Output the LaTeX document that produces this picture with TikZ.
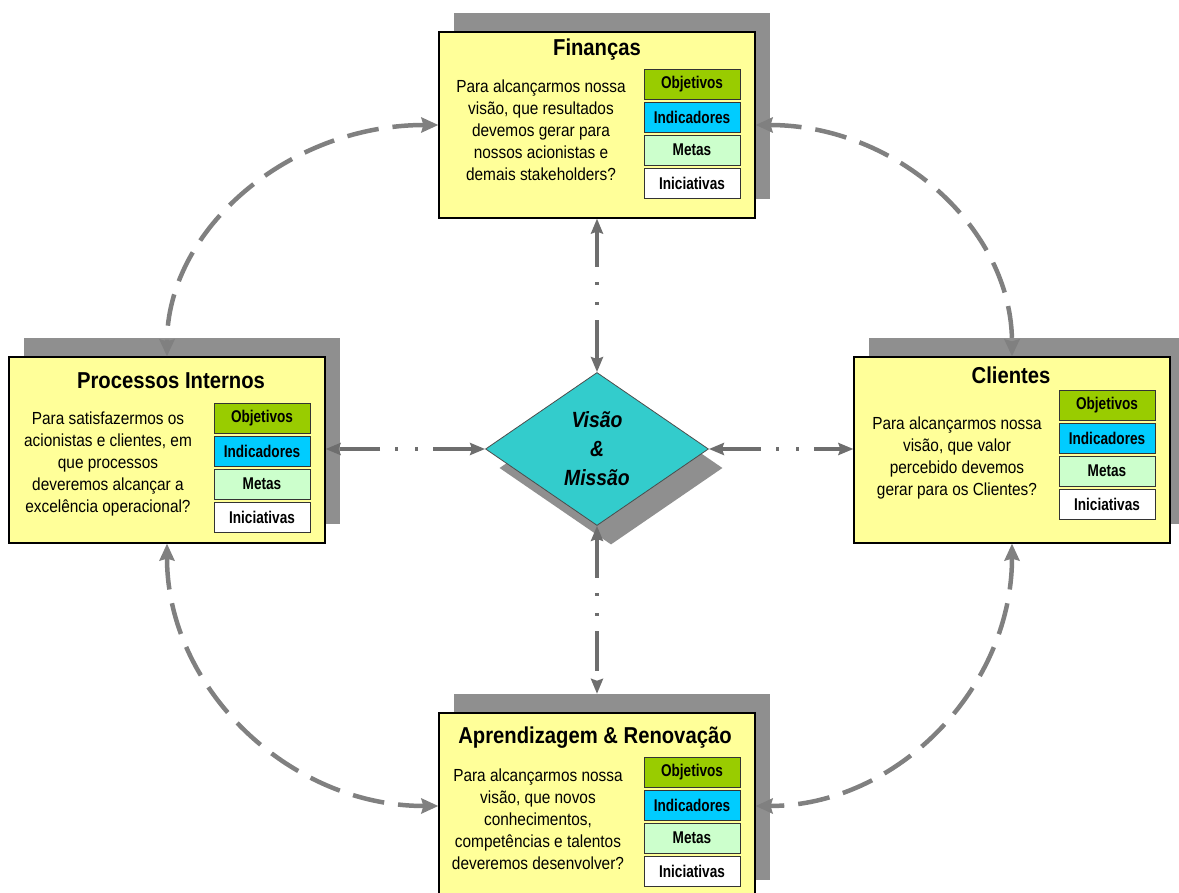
\documentclass[tikz,border=0pt]{standalone}
\usepackage{fontspec}
\setmainfont{Liberation Sans}[FakeStretch=0.88]
\newfontfamily\lblfont{Liberation Sans}[FakeStretch=0.8]
\usetikzlibrary{shapes.geometric,arrows.meta,calc}
\definecolor{boxyellow}{HTML}{FFFF99}
\definecolor{shadowgray}{HTML}{8F8F8F}
\definecolor{objgreen}{HTML}{99CC00}
\definecolor{indcyan}{HTML}{00CCFF}
\definecolor{metgreen}{HTML}{CCFFCC}
\definecolor{vmteal}{HTML}{33CCCC}
\definecolor{arrowgray}{HTML}{808080}
\definecolor{ddgray}{HTML}{6E6E6E}
\begin{document}
\begin{tikzpicture}[x=1pt,y=-1pt,
  panel/.style={draw=black,line width=1.2pt,fill=boxyellow,minimum width=316pt,minimum height=186pt,inner sep=0pt},
  shadowbox/.style={fill=shadowgray,minimum width=316pt,minimum height=186pt,inner sep=0pt},
  ptitle/.style={font=\fontsize{23}{26}\selectfont\bfseries,inner sep=0pt},
  ptext/.style={font=\fontsize{17.5}{22}\selectfont,align=center,inner sep=0pt},
  tag/.style={draw=black!80,line width=0.8pt,minimum width=96pt,minimum height=30pt,inner sep=0pt,font=\lblfont\fontsize{17}{19}\selectfont\bfseries},
  tobj/.style={tag,fill=objgreen},
  tind/.style={tag,fill=indcyan},
  tmet/.style={tag,fill=metgreen},
  tini/.style={tag,fill=white},
  vmshape/.style={diamond,minimum width=223pt,minimum height=153pt,inner sep=0pt},
  curvec/.style={draw=arrowgray,line width=4.5pt,dash pattern=on 32pt off 14pt,
    {Stealth[length=17pt,width=15pt,inset=2pt]}-{Stealth[length=17pt,width=15pt,inset=2pt]}},
  ddline/.style={draw=ddgray,line width=4pt,dash pattern=on 40pt off 15pt on 3pt off 17pt on 3pt off 15pt,
    {Stealth[length=15pt,width=12pt,inset=2pt]}-{Stealth[length=15pt,width=12pt,inset=2pt]}}
]
\useasboundingbox (0,0) rectangle (1179,893);
% shadows
\node[shadowbox] (finsh) at (612,106) {};
\node[shadowbox] (procsh) at (182,431) {};
\node[shadowbox] (clish) at (1027,431) {};
\node[shadowbox] (aprsh) at (612,787) {};
\node[vmshape,fill=shadowgray] (vmsh) at (611,468) {};
% panels
\node[panel] (fin) at (597,125) {};
\node[panel] (proc) at (167,450) {};
\node[panel] (cli) at (1012,450) {};
\node[panel] (apr) at (597,806) {};
% Finanças
\node[ptitle] (fint) at (597,50) {Finanças};
\node[ptext] (finx) at (541,130.5) {Para alcançarmos nossa\\visão, que resultados\\devemos gerar para\\nossos acionistas e\\demais stakeholders?};
\node[tobj] (fin1) at (692,84) {Objetivos};
\node[tind] (fin2) at (692,117) {Indicadores};
\node[tmet] (fin3) at (692,150) {Metas};
\node[tini] (fin4) at (692,183) {Iniciativas};
% Processos Internos
\node[ptitle] (proct) at (171,381) {Processos Internos};
\node[ptext] (procx) at (108,463.5) {Para satisfazermos os\\acionistas e clientes, em\\que processos\\deveremos alcançar a\\excelência operacional?};
\node[tobj] (proc1) at (262,418) {Objetivos};
\node[tind] (proc2) at (262,451) {Indicadores};
\node[tmet] (proc3) at (262,484) {Metas};
\node[tini] (proc4) at (262,517) {Iniciativas};
% Clientes
\node[ptitle] (clit) at (1011,375) {Clientes};
\node[ptext] (clix) at (957,458) {Para alcançarmos nossa\\visão, que valor\\percebido devemos\\gerar para os Clientes?};
\node[tobj] (cli1) at (1107,405) {Objetivos};
\node[tind] (cli2) at (1107,438) {Indicadores};
\node[tmet] (cli3) at (1107,471) {Metas};
\node[tini] (cli4) at (1107,504) {Iniciativas};
% Aprendizagem
\node[ptitle] (aprt) at (595,738) {Aprendizagem \& Renovação};
\node[ptext] (aprx) at (538,819) {Para alcançarmos nossa\\visão, que novos\\conhecimentos,\\competências e talentos\\deveremos desenvolver?};
\node[tobj] (apr1) at (692,772) {Objetivos};
\node[tind] (apr2) at (692,805) {Indicadores};
\node[tmet] (apr3) at (692,838) {Metas};
\node[tini] (apr4) at (692,871) {Iniciativas};
% diamond
\node[vmshape,draw=black!70,line width=0.8pt,fill=vmteal,align=center,font=\fontsize{22}{29}\selectfont\bfseries\itshape] (vm) at (597,449) {Visão\\\&\\Missão};
% curved connectors
\draw[curvec] (fin.west) .. controls (289,125) and (167,229) .. (proc.north);
\draw[curvec] (fin.east) .. controls (897,125) and (1012,229) .. (cli.north);
\draw[curvec] (cli.south) .. controls (1012,688) and (897,806) .. (apr.east);
\draw[curvec] (proc.south) .. controls (167,688) and (289,806) .. (apr.west);
% dash-dot connectors
\draw[ddline] (vm.north) -- (fin.south);
\draw[ddline] (vm.west) -- (proc.east |- vm.west);
\draw[ddline] (vm.east) -- (cli.west |- vm.east);
\draw[ddline] (vm.south) -- (vm.south |- aprsh.north);
\end{tikzpicture}
\end{document}
